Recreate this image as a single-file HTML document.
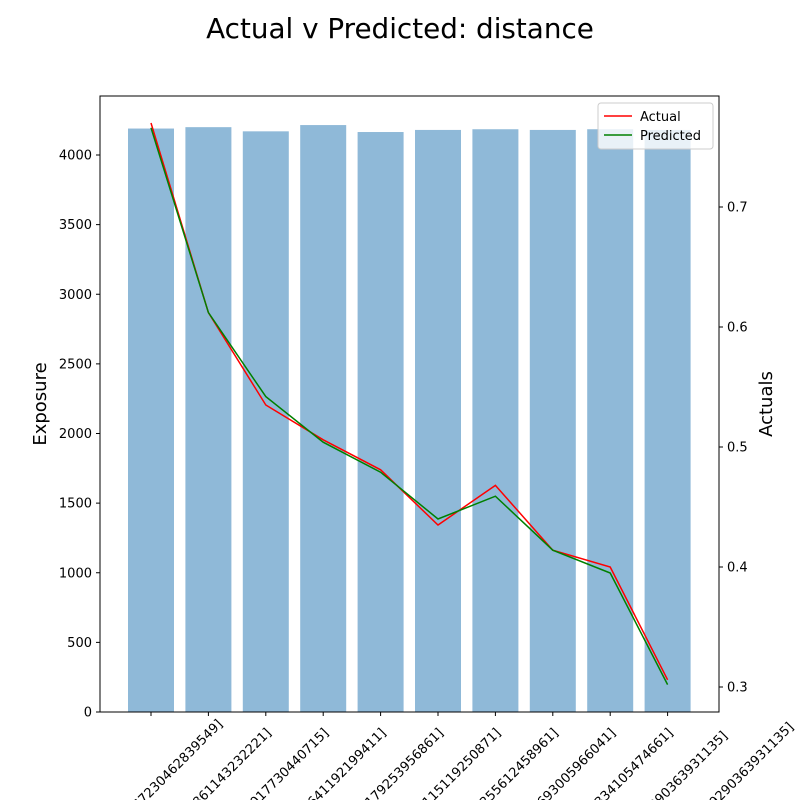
<!DOCTYPE html>
<html><head><meta charset="utf-8"><style>html,body{margin:0;background:#fff;overflow:hidden;width:800px;height:800px}svg{font-family:"DejaVu Sans","Liberation Sans",sans-serif;display:block}</style></head>
<body>
<svg id="c" width="800" height="800" xmlns="http://www.w3.org/2000/svg">
<text x="400" y="38" text-anchor="middle" font-size="27.8">Actual v Predicted: distance</text>
<g id="bars"></g><g id="lines"></g><g id="axes"></g>
<rect x="100" y="96" width="619" height="616" fill="none" stroke="#000" stroke-width="1"/>
<text transform="translate(46,404) rotate(-90)" text-anchor="middle" font-size="18">Exposure</text>
<text transform="translate(772,404) rotate(-90)" text-anchor="middle" font-size="18">Actuals</text>
<g>
<rect x="598" y="103" width="115" height="46" fill="#fff" fill-opacity="0.8" stroke="#ccc" rx="3"/>
<line x1="604" y1="116" x2="632" y2="116" stroke="red" stroke-width="1.5"/>
<text x="640" y="121" font-size="13">Actual</text>
<line x1="604" y1="135" x2="632" y2="135" stroke="green" stroke-width="1.5"/>
<text x="640" y="140" font-size="13">Predicted</text>
</g>
</svg>
<script>
const categories=["(3.11, 3.8114567230462839549]","(3.81, 4.4528861143232221]","(4.45, 5.0193017730440715]","(5.02, 5.5927641192199411]","(5.59, 6.2718179253956861]","(6.27, 6.9143115119250871]","(6.91, 7.6223255612458961]","(7.62, 8.3612693005966041]","(8.36, 9.2764334105474661]","(9.28, 10.51290363931135]"];
const extraLabel="(10.51, 12.6189290363931135]";
const exposure=[4190,4200,4170,4215,4165,4180,4185,4180,4185,4180];
const actual=[0.770,0.612,0.535,0.506,0.481,0.435,0.468,0.414,0.400,0.306];
const predicted=[0.766,0.612,0.542,0.504,0.479,0.440,0.459,0.414,0.395,0.302];
const leftTicks=[0,500,1000,1500,2000,2500,3000,3500,4000];
const rightTicks=[0.3,0.4,0.5,0.6,0.7];
const NS="http://www.w3.org/2000/svg";
const xPos=i=>151+57.4*i;
const yL=v=>712-v*(557/4000);
const yR=v=>687-(v-0.3)*1200;
function mk(t,a,p){const e=document.createElementNS(NS,t);for(const k in a)e.setAttribute(k,a[k]);p.appendChild(e);return e;}
const bars=document.getElementById('bars'),lines=document.getElementById('lines'),axes=document.getElementById('axes');
exposure.forEach((v,i)=>{const r=mk('rect',{x:xPos(i)-23,y:yL(v),width:46,height:712-yL(v),fill:'#8fb9d8'},bars);

});
function line(arr,col,name){const p=mk('polyline',{points:arr.map((v,i)=>xPos(i)+','+yR(v)).join(' '),fill:'none',stroke:col,'stroke-width':1.5},lines);

}
line(actual,'red','actual-line');line(predicted,'green','predicted-line');
leftTicks.forEach(v=>{const y=yL(v);mk('line',{x1:96,x2:100,y1:y,y2:y,stroke:'#000'},axes);
const t=mk('text',{x:92,y:y+4.5,'text-anchor':'end','font-size':13},axes);t.textContent=v;

});
rightTicks.forEach(v=>{const y=yR(v);mk('line',{x1:719,x2:723,y1:y,y2:y,stroke:'#000'},axes);
const t=mk('text',{x:727,y:y+4.5,'font-size':13},axes);t.textContent=v.toFixed(1);

});
categories.concat([extraLabel]).forEach((c,i)=>{const x=xPos(i);
if(i<categories.length)mk('line',{x1:x,x2:x,y1:712,y2:716,stroke:'#000'},axes);
const cx=x-7,cy=799;
const t=mk('text',{x:cx,y:cy,'text-anchor':'middle','dominant-baseline':'central','font-size':13,transform:`rotate(-45 ${cx} ${cy})`},axes);t.textContent=c;

});
</script>
</body></html>
